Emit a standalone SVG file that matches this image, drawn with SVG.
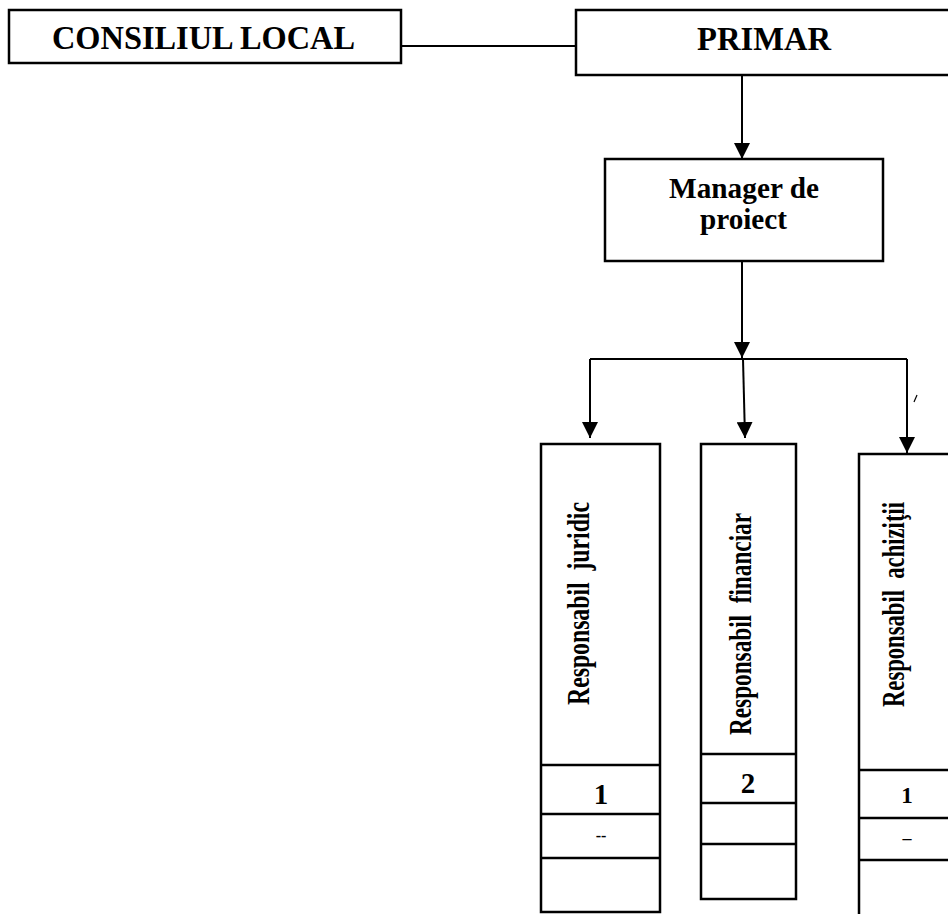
<svg xmlns="http://www.w3.org/2000/svg" width="948" height="914" viewBox="0 0 948 914">
  <style>
    .box { fill: #fff; stroke: #000; stroke-width: 2.5; }
    .div { stroke: #000; stroke-width: 2.5; fill: none; }
    .ln { stroke: #000; stroke-width: 2; fill: none; }
    .t { font-family: "Liberation Serif", "Times New Roman", serif; font-weight: bold; fill: #000; }
    .big { font-size: 33px; }
    .mid { font-size: 29px; }
    .vt { font-size: 31px; }
  </style>
  <defs>
    <marker id="arr" viewBox="0 0 16 16" refX="16" refY="8" markerWidth="16" markerHeight="16" markerUnits="userSpaceOnUse" orient="auto">
      <path d="M0,0 L16,8 L0,16 z" fill="#000"/>
    </marker>
  </defs>
  <rect width="948" height="914" fill="#fff"/>

  <g id="connectors">
    <path class="ln" d="M401,46 L576,46"/>
    <path class="ln" d="M742,75 L742,159" marker-end="url(#arr)"/>
    <path class="ln" d="M742,261 L742,358" marker-end="url(#arr)"/>
    <path class="ln" d="M590,359 L907,359" stroke-width="2.5"/>
    <path class="ln" d="M590,359 L590,438" marker-end="url(#arr)"/>
    <path class="ln" d="M743,359 L745,438" marker-end="url(#arr)"/>
    <path class="ln" d="M907,359 L907,453" marker-end="url(#arr)"/>
    <path d="M914,402 L917,395" stroke="#000" stroke-width="1.2"/>
  </g>

  <g id="consiliul-local">
    <rect class="box" x="9" y="10" width="392" height="53"/>
    <text class="t big" x="52" y="49" textLength="303" lengthAdjust="spacingAndGlyphs">CONSILIUL LOCAL</text>
  </g>

  <g id="primar">
    <rect class="box" x="576" y="10" width="380" height="65"/>
    <text class="t big" x="697" y="50" textLength="134" lengthAdjust="spacingAndGlyphs">PRIMAR</text>
  </g>

  <g id="manager">
    <rect class="box" x="605" y="159" width="278" height="102"/>
    <text class="t mid" x="669" y="198" textLength="150" lengthAdjust="spacingAndGlyphs">Manager de</text>
    <text class="t mid" x="700" y="229" textLength="87" lengthAdjust="spacingAndGlyphs">proiect</text>
  </g>

  <g id="responsabil-juridic">
    <rect class="box" x="541" y="444" width="119" height="468"/>
    <path class="div" d="M541,765 L660,765 M541,814 L660,814 M541,858 L660,858"/>
    <text class="t vt" xml:space="preserve" transform="translate(589,603.5) rotate(-90)" text-anchor="middle" textLength="203" lengthAdjust="spacingAndGlyphs">Responsabil  juridic</text>
    <text class="t" x="601" y="804" font-size="29" text-anchor="middle">1</text>
    <text class="t" x="601" y="841" font-size="16" text-anchor="middle">--</text>
  </g>

  <g id="responsabil-financiar">
    <rect class="box" x="701" y="444" width="95" height="455"/>
    <path class="div" d="M701,754 L796,754 M701,803 L796,803 M701,844 L796,844"/>
    <text class="t vt" xml:space="preserve" transform="translate(751,624) rotate(-90)" text-anchor="middle" textLength="222" lengthAdjust="spacingAndGlyphs">Responsabil  financiar</text>
    <text class="t" x="748" y="793" font-size="29" text-anchor="middle">2</text>
  </g>

  <g id="responsabil-achizitii">
    <rect class="box" x="859" y="454" width="100" height="470"/>
    <path class="div" d="M859,770 L950,770 M859,818 L950,818 M859,860 L950,860"/>
    <text class="t vt" xml:space="preserve" transform="translate(904,604.5) rotate(-90)" text-anchor="middle" textLength="205" lengthAdjust="spacingAndGlyphs">Responsabil  achiziţii</text>
    <text class="t" x="907" y="803" font-size="23" text-anchor="middle">1</text>
    <text class="t" x="907" y="844" font-size="18" text-anchor="middle">–</text>
  </g>
</svg>
